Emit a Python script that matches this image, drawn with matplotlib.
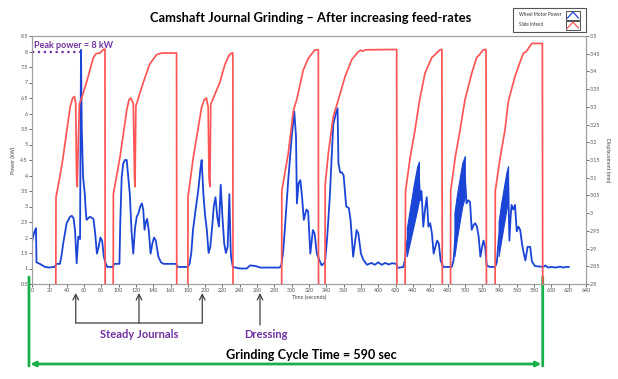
import numpy as np
import matplotlib
matplotlib.use("Agg")
import matplotlib.pyplot as plt
from matplotlib.patches import Rectangle
from matplotlib.lines import Line2D

plt.rcParams['font.family'] = ['Lato', 'DejaVu Sans']

# wheel motor power (kW) - time (s)
power_t = [0, 1, 3, 4.6, 5.2, 9, 12, 15, 20, 24.6, 26, 28.5, 32.3, 34, 36, 40, 44, 46, 48, 49.7,
           51.6, 52.5, 53.5, 55.5, 56.6, 57.5, 59, 61, 62, 63, 67, 71, 73, 75, 77, 79, 81, 83, 85,
           87, 93, 95, 101, 102, 103.6, 105.5, 107.4, 109.4, 111, 113, 115, 117, 119, 121, 123,
           125, 127, 128.5, 130, 131.5, 133, 135, 137, 139, 141, 143, 146, 149, 152, 167, 168,
           180, 182, 184, 186, 189, 192, 194.5, 196, 198, 200, 202, 204, 206, 208, 210, 212, 214,
           216, 218, 220, 222, 224, 226, 227, 228, 229.5, 230, 232, 240, 248, 252, 258, 264, 286,
           288, 290, 292, 296, 300, 303, 305, 306, 308, 310, 312, 314, 317, 319, 321.5, 324.5,
           326.5, 329, 332, 334.6, 338.5, 341, 344, 348, 351, 353, 354, 356, 358, 360, 363, 366,
           368, 371, 375, 377, 380, 383, 387, 392, 396, 400, 404, 408, 412, 416, 421, 422, 429,
           431, 433, 437, 441, 445, 447, 448.4, 450, 452, 454, 456, 458, 460, 462, 464, 466, 468,
           470, 472, 475, 485, 487, 489, 493, 497, 500, 502, 504, 506, 508, 510, 512, 514, 516,
           518, 520, 521.6, 523.5, 525.3, 529, 535, 537, 539, 542, 545, 548, 550, 551.5, 553, 554,
           556, 558, 560, 562, 564, 566, 568, 570, 572.5, 575.5, 577.5, 581, 590.7, 593, 596, 600,
           605, 610, 614, 617, 620]
power_kw = [1.85, 2.0, 2.2, 2.3, 1.2, 1.15, 1.1, 1.05, 1.03, 1.05, 1.05, 1.15, 1.15, 1.4, 1.8,
            2.46, 2.67, 2.7, 2.62, 2.24, 1.17, 1.6, 2.03, 1.95, 8.05, 5.5, 3.95, 3.4, 2.9, 2.57,
            2.67, 2.6, 2.13, 1.48, 1.7, 2.0, 1.9, 1.38, 1.17, 1.05, 1.05, 1.15, 1.15, 2.5, 3.95,
            4.4, 4.5, 4.5, 4.0, 3.4, 2.2, 1.48, 2.3, 2.67, 2.78, 3.0, 3.1, 2.9, 2.25, 2.5, 2.6,
            2.2, 1.48, 1.8, 2.0, 1.9, 1.38, 1.2, 1.15, 1.15, 1.05, 1.05, 1.15, 1.5, 2.24, 2.9,
            3.5, 4.2, 4.5, 3.4, 2.7, 2.24, 1.5, 1.7, 2.3, 3.0, 3.3, 2.67, 2.35, 3.7, 2.67, 1.81,
            1.5, 1.7, 2.5, 3.4, 1.6, 1.38, 1.05, 1.0, 1.0, 1.1, 1.08, 1.03, 1.03, 1.1, 1.5, 2.24,
            3.85, 5.25, 6.06, 5.25, 3.1, 3.75, 3.85, 3.3, 2.57, 2.9, 2.85, 1.48, 2.24, 2.13, 1.48,
            1.27, 1.1, 1.2, 2.0, 3.3, 5.65, 6.0, 6.17, 4.4, 4.1, 4.1, 4.0, 3.0, 2.95, 2.57, 1.38,
            2.24, 2.13, 1.48, 1.27, 1.12, 1.18, 1.12, 1.2, 1.12, 1.18, 1.13, 1.17, 1.15, 1.02,
            1.05, 1.3, 1.8, 2.4, 3.0, 3.6, 4.0, 3.2, 3.5, 2.35, 2.9, 3.3, 2.35, 2.46, 2.13, 1.48,
            1.7, 1.9, 1.8, 1.27, 1.05, 1.05, 1.26, 2.0, 2.7, 3.4, 4.0, 3.1, 3.2, 3.15, 2.25, 2.4,
            2.46, 2.35, 2.03, 1.38, 1.7, 1.9, 1.7, 1.1, 1.05, 1.05, 1.2, 1.9, 2.5, 3.0, 3.5, 3.9,
            1.9, 2.7, 3.05, 2.9, 3.05, 2.2, 2.35, 2.24, 1.81, 1.5, 1.26, 1.7, 1.7, 1.23, 1.08,
            1.05, 1.1, 1.03, 1.05, 1.03, 1.06, 1.03, 1.05, 1.05]

# oscillating parts of the power trace (lower / upper envelope)
osc_t = [[433, 437, 441, 445, 447], [488, 491, 494, 497, 500], [539, 542, 545, 548, 550]]
osc_lo = [[1.4, 1.9, 2.4, 2.9, 3.2], [1.4, 2.0, 2.5, 3.0, 3.3], [1.4, 1.9, 2.4, 2.9, 3.2]]
osc_hi = [[2.3, 3.0, 3.7, 4.3, 4.45], [2.8, 3.4, 3.9, 4.4, 4.63], [2.5, 3.1, 3.6, 4.1, 4.3]]

# slide infeed (mm) - below 2.8 means retracted
infeed_t = [0, 27.5, 27.7, 32, 36, 44, 47, 49, 50.5, 51.5, 52.3, 53.5, 54.7, 58, 63, 70.8, 74,
            78.6, 82.4, 84.3, 84.5,
            93.8, 94, 101.7, 109.4, 112, 114, 117, 118.5, 119, 120, 128.6, 136, 144, 150, 167,
            167.2,
            180, 180.2, 186.4, 196, 199, 201.5, 203.5, 204.5, 205.5, 206.5, 217, 223, 228, 230.7,
            232, 232.2,
            288.4, 288.6, 296, 302, 305.8, 313.4, 319.2, 324, 327, 330.8, 331,
            338.5, 338.7, 342.3, 348, 353.9, 361.6, 369.3, 377, 380, 382, 385, 421.3, 421.5,
            431, 431.5, 437, 442.5, 447.5, 454, 461.8, 465.6, 471.3, 473.5, 474,
            483.5, 483.7, 489, 494.5, 500.2, 508, 513.7, 517, 521.4, 524.5, 525,
            535, 535.2, 541, 546.4, 550.3, 558, 563, 567.6, 571, 577.3, 589.6, 590, 640]
infeed_mm = [2.78, 2.78, 3.045, 3.10, 3.159, 3.299, 3.325, 3.329, 3.31, 3.10, 3.075, 3.2, 3.3075,
             3.33, 3.369, 3.439, 3.45, 3.452, 3.462, 3.463, 2.78,
             2.78, 3.054, 3.159, 3.29, 3.32, 3.325, 3.31, 3.1, 3.075, 3.303, 3.369, 3.421,
             3.4475, 3.452, 3.452, 2.78,
             2.78, 3.045, 3.159, 3.299, 3.32, 3.325, 3.3, 3.1, 3.075, 3.3075, 3.369, 3.421,
             3.447, 3.452, 3.452, 2.78,
             2.78, 3.063, 3.168, 3.29, 3.32, 3.404, 3.437, 3.452, 3.461, 3.461, 2.78,
             2.78, 3.08, 3.168, 3.2725, 3.32, 3.385, 3.433, 3.456, 3.46, 3.457, 3.461, 3.462,
             2.78,
             2.78, 3.0625, 3.159, 3.235, 3.316, 3.395, 3.439, 3.4475, 3.461, 3.462, 2.78,
             2.78, 3.0625, 3.159, 3.235, 3.32, 3.395, 3.439, 3.4475, 3.461, 3.462, 2.78,
             2.78, 3.0625, 3.159, 3.235, 3.316, 3.386, 3.421, 3.451, 3.456, 3.479, 3.479,
             2.78, 2.78]

steady_t = [50.5, 123.6, 196.7]
dressing_t = 263.4
cycle_end = 590
peak_kw = 8

blue = '#1a45d6'
red = '#ff5555'
purple = '#7030a0'
green = '#19b04a'

fig = plt.figure(figsize=(6.18, 3.79), dpi=100)
ax = fig.add_axes([32 / 618, 1 - 284 / 379, 554 / 618, 248 / 379])
ax2 = ax.twinx()

ax.plot(power_t, power_kw, color=blue, lw=1.3, zorder=3)
for t, lo, hi in zip(osc_t, osc_lo, osc_hi):
    ax.fill_between(t, lo, hi, color=blue, lw=0.8, zorder=3)
ax2.plot(infeed_t, infeed_mm, color=red, lw=1.25)

ax.set_xlim(0, 640)
ax.set_ylim(0.5, 8.5)
ax2.set_ylim(2.8, 3.5)
ax.set_xticks(np.arange(0, 641, 20))
ax.set_yticks(np.arange(0.5, 8.51, 0.5))
ax.set_yticklabels(['%g' % v for v in np.arange(0.5, 8.51, 0.5)])
ax2.set_yticks(np.arange(2.8, 3.501, 0.05))
ax2.set_yticklabels(['%g' % round(v, 2) for v in np.arange(2.8, 3.501, 0.05)])

for a in (ax, ax2):
    a.tick_params(labelsize=3.8, length=2, width=0.6, colors='#555555', pad=1)
    for s in a.spines.values():
        s.set_color('#a0a0a0')
        s.set_linewidth(0.8)

ax.set_xlabel('Time (seconds)', fontsize=3.8, color='#444444', labelpad=1)
ax.set_ylabel('Power (kW)', fontsize=3.8, color='#444444', labelpad=3)
ax2.set_ylabel('Displacement (mm)', fontsize=3.8, color='#444444', rotation=270, labelpad=7)

# peak power marker
ax.plot([0, 56], [peak_kw, peak_kw], color=purple, ls=':', lw=1.6, zorder=4)
ax.text(2, 8.2, 'Peak power = %g kW' % peak_kw, color=purple, fontsize=6.5,
        fontweight='bold', va='center')

fig.text(0.503, 1 - 18 / 379, 'Camshaft Journal Grinding \u2013 After increasing feed-rates',
         ha='center', va='center', fontsize=9.3, fontweight='bold')

# legend box
fig.patches.append(Rectangle((513 / 618, 1 - 32 / 379), 73 / 618, 24 / 379,
                             transform=fig.transFigure, fill=False, ec='#555555', lw=0.8))
for i, (lab, col) in enumerate([('Wheel Motor Power', blue), ('Slide Infeed', red)]):
    yc = 1 - (15 + 10 * i) / 379
    fig.text(519 / 618, yc, lab, fontsize=3.3, va='center', color='#333333')
    fig.patches.append(Rectangle((566 / 618, yc - 4.5 / 379), 14 / 618, 9 / 379,
                                 transform=fig.transFigure, fill=False, ec='#333333', lw=0.6))
    fig.lines.append(Line2D([567.5 / 618, 573 / 618, 578.5 / 618],
                            [yc - 3 / 379, yc + 3 / 379, yc - 3 / 379],
                            transform=fig.transFigure, color=col, lw=0.9))

# annotations below the axis
arrow_kw = dict(arrowstyle='->', color='#404040', lw=0.9, shrinkA=0, shrinkB=0)
y_tip = 1 - 293 / 379
y_bar = 1 - 323 / 379
for t in steady_t:
    ax.annotate('', xy=(t, y_tip), xytext=(t, y_bar), xycoords=('data', 'figure fraction'),
                textcoords=('data', 'figure fraction'), arrowprops=arrow_kw, annotation_clip=False)
ax.annotate('', xy=(steady_t[0], y_bar), xytext=(steady_t[-1], y_bar),
            xycoords=('data', 'figure fraction'), textcoords=('data', 'figure fraction'),
            arrowprops=dict(arrowstyle='-', color='#404040', lw=0.9, shrinkA=0, shrinkB=0),
            annotation_clip=False)
ax.annotate('', xy=(dressing_t, y_tip), xytext=(dressing_t, 1 - 325 / 379),
            xycoords=('data', 'figure fraction'), textcoords=('data', 'figure fraction'),
            arrowprops=arrow_kw, annotation_clip=False)
fig.text(139.5 / 618, 1 - 334 / 379, 'Steady Journals', color=purple, fontsize=8,
         fontweight='bold', ha='center', va='center')
fig.text(265.5 / 618, 1 - 335 / 379, 'Dressing', color=purple, fontsize=8,
         fontweight='bold', ha='center', va='center')

# grinding cycle time
y_top = 1 - 277 / 379
y_bot = 1 - 366 / 379
y_arr = 1 - 364 / 379
for t in (-3.5, cycle_end):
    ax.annotate('', xy=(t, y_top), xytext=(t, y_bot), xycoords=('data', 'figure fraction'),
                textcoords=('data', 'figure fraction'),
                arrowprops=dict(arrowstyle='-', color=green, lw=2, shrinkA=0, shrinkB=0),
                annotation_clip=False)
ax.annotate('', xy=(-3.5, y_arr), xytext=(cycle_end, y_arr),
            xycoords=('data', 'figure fraction'), textcoords=('data', 'figure fraction'),
            arrowprops=dict(arrowstyle='<|-|>', color=green, lw=2, shrinkA=1, shrinkB=1,
                            mutation_scale=7),
            annotation_clip=False)
fig.text(311.5 / 618, 1 - 355 / 379, 'Grinding Cycle Time = %d sec' % cycle_end,
         fontsize=9.1, fontweight='bold', ha='center', va='center')

fig.savefig('out.png', dpi=100)
